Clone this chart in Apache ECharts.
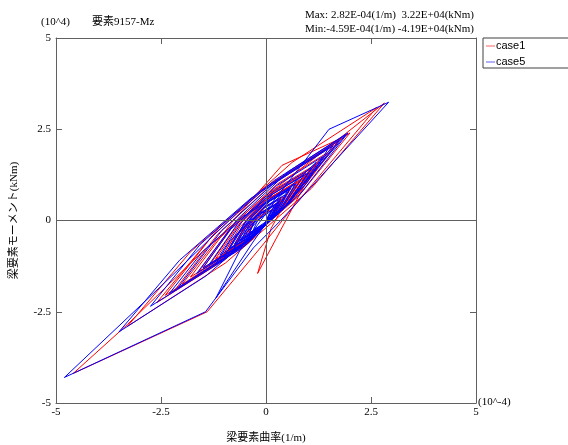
<!DOCTYPE html>
<html>
<head>
<meta charset="utf-8">
<script src="https://cdn.jsdelivr.net/npm/echarts@6/dist/echarts.min.js"></script>
<style>html,body{margin:0;padding:0;background:#fff;}#c{width:568px;height:445px;}</style>
</head>
<body>
<div id="c"></div>
<script>
// curvature in 1e-4 (1/m), moment in 1e4 (kNm)
const axisTicks = [-5, -2.5, 0, 2.5, 5];
const seriesNames = ['case1', 'case5'];
const case1 = [
[0,0],[0.12,0.22],[0.35,0.6],
[0.19,0.16],[-0.07,-0.18],[-0.45,-0.4],
[-0.24,0.14],[0.10,0.55],[0.55,0.85],
[0.26,0.24],[-0.15,-0.25],[-0.7,-0.6],
[-0.36,0.09],[0.13,0.64],[0.75,1.05],
[0.35,0.28],[-0.2,-0.33],[-0.9,-0.8],
[-0.44,0.06],[0.17,0.76],[0.95,1.3],
[0.40,0.35],[-0.31,-0.44],[-1.2,-1.05],
[-0.58,0.0],[0.22,0.86],[1.2,1.55],
[0.49,0.41],[-0.41,-0.54],[-1.5,-1.3],
[-0.72,-0.05],[0.27,1.0],[1.45,1.85],
[0.58,0.51],[-0.51,-0.63],[-1.8,-1.55],
[-0.82,-0.06],[0.38,1.51],[1.8,2.26],
[0.70,0.63],[-0.64,-0.78],[-2.2,-1.95],
[-1.16,-0.39],[0.10,0.95],[1.6,2.05],
[0.44,0.38],[-0.96,-1.06],[-2.6,-2.25],
[-1.12,-0.20],[0.62,1.59],[2.64,3.1],
[0.6,0.3],[-0.1,-0.7],[-1.4,-2.5],[-4.59,-4.19],
[-3.3,-2.85],[-1.6,-0.95],[-0.2,0.5],[1.2,1.75],[2.82,3.22],
[1.08,0.88],[-0.96,-1.16],[-3.3,-2.9],
[-1.80,-0.86],[-0.04,0.90],[2.0,2.4],
[0.78,0.67],[-0.68,-0.82],[-2.4,-2.05],
[-1.27,-0.41],[0.09,0.99],[1.7,2.15],
[0.69,0.63],[-0.55,-0.67],[-2.0,-1.75],
[-1.18,-0.55],[-0.17,0.45],[1.05,1.25],
[-0.2,-1.45],
[0.12,-0.22],[0.62,0.83],[1.3,1.7],
[0.52,0.48],[-0.44,-0.56],[-1.6,-1.4],
[-0.90,-0.29],[-0.01,0.65],[1.05,1.4],
[0.44,0.38],[-0.35,-0.47],[-1.3,-1.15],
[-0.74,-0.22],[-0.03,0.54],[0.85,1.15],
[0.38,0.32],[-0.23,-0.37],[-1.0,-0.9],
[-0.61,-0.16],[-0.07,0.44],[0.6,0.9],
[0.28,0.24],[-0.17,-0.30],[-0.75,-0.7],
[-0.49,-0.13],[-0.10,0.32],[0.4,0.65],
[0.19,0.16],[-0.12,-0.23],[-0.55,-0.5],
[-0.38,-0.08],[-0.12,0.23],[0.25,0.45],
[0.12,0.09],[-0.09,-0.17],[-0.4,-0.35],
[-0.3,-0.05],[-0.1,0.14],[0.15,0.3],
[-0.09,-0.23],[-0.44,-0.64],[-0.9,-0.95],
[-0.59,-0.34],[-0.18,0.16],[0.35,0.55],
[-0.01,-0.12],[-0.5,-0.67],[-1.1,-1.1],
[-0.8,-0.53],[-0.4,-0.07],[0.1,0.3]
];
const case5 = [
[0,0],[0.08,0.2],[0.3,0.55],
[0.16,0.16],[-0.08,-0.14],[-0.4,-0.35],
[-0.21,0.14],[0.09,0.53],[0.5,0.8],
[0.24,0.23],[-0.15,-0.22],[-0.65,-0.55],
[-0.33,0.10],[0.12,0.61],[0.7,1.0],
[0.32,0.28],[-0.19,-0.31],[-0.85,-0.75],
[-0.42,0.07],[0.17,0.73],[0.9,1.25],
[0.39,0.36],[-0.27,-0.38],[-1.1,-0.95],
[-0.54,0.02],[0.20,0.82],[1.1,1.45],
[0.46,0.39],[-0.35,-0.50],[-1.35,-1.2],
[-0.64,-0.03],[0.26,0.96],[1.35,1.75],
[0.55,0.48],[-0.45,-0.58],[-1.65,-1.45],
[-0.67,0.05],[0.53,1.34],[1.95,2.4],
[0.83,0.75],[-0.52,-0.66],[-2.1,-1.85],
[-1.05,-0.27],[0.24,1.08],[1.75,2.2],
[0.50,0.43],[-1.0,-1.08],[-2.75,-2.35],
[-1.57,-0.66],[-0.16,0.79],[1.5,2.0],
[0.96,1.01],[0.26,0.17],[-0.6,-0.5],
[-0.15,0.05],[0.8,1.45],[1.5,2.5],[2.92,3.24],
[1.3,1.2],[0.35,0.0],[-0.3,-0.75],[-1.44,-2.5],[-4.8,-4.3],
[-2.5,-1.8],[-0.7,0.2],[0.2,1.1],[1.9,2.35],
[0.37,0.28],[-1.43,-1.52],[-3.5,-3.05],
[-2.06,-1.09],[-0.36,0.61],[1.6,2.05],
[0.53,0.47],[-0.77,-0.88],[-2.3,-2.0],
[-1.51,-0.85],[-0.55,0.11],[0.6,0.9],
[-0.31,-0.59],[-1.19,-2.12],
[-0.57,-0.70],[0.22,0.54],[1.2,1.6],
[0.49,0.44],[-0.41,-0.52],[-1.5,-1.3],
[-0.85,-0.25],[-0.01,0.61],[1.0,1.3],
[0.52,0.45],[-0.12,-0.25],[-0.9,-0.8],
[-0.51,-0.06],[0.03,0.54],[0.7,1.0],
[0.35,0.32],[-0.14,-0.23],[-0.75,-0.65],
[-0.44,-0.03],[0.0,0.47],[0.55,0.85],
[0.29,0.26],[-0.10,-0.20],[-0.6,-0.55],
[-0.36,-0.02],[-0.01,0.39],[0.45,0.7],
[0.23,0.22],[-0.08,-0.17],[-0.5,-0.45],
[-0.32,0.0],[-0.03,0.35],[0.35,0.6],
[0.19,0.19],[-0.06,-0.12],[-0.4,-0.35],
[-0.26,0.0],[-0.05,0.26],[0.25,0.45],
[0.12,0.12],[-0.05,-0.1],[-0.3,-0.25],
[-0.2,0.0],[0.0,0.18],[0.15,0.3],
[-0.11,-0.25],[-0.5,-0.69],[-1.0,-1.0],
[-0.69,-0.38],[-0.25,0.12],[0.3,0.5],
[-0.07,-0.2],[-0.57,-0.76],[-1.2,-1.2],
[-0.85,-0.55],[-0.39,-0.01],[0.2,0.4],
[-0.03,-0.12],[-0.37,-0.53],[-0.8,-0.85],
[-0.6,-0.42],[-0.31,-0.07],[0.05,0.2]
];
const titleText = '要素9157-Mz';
const yUnitText = '(10^4)';
const xUnitText = '(10^-4)';
const maxText = 'Max: 2.82E-04(1/m)  3.22E+04(kNm)';
const minText = 'Min:-4.59E-04(1/m) -4.19E+04(kNm)';
const xName = '梁要素曲率(1/m)';
const yName = '梁要素モーメント(kNm)';

const FONT = "'Liberation Serif','Noto Sans CJK JP',serif";
const AX = '#606060';
const chart = echarts.init(document.getElementById('c'), null, {renderer: 'canvas'});
const baseAxis = {
  min: axisTicks[0], max: axisTicks[axisTicks.length - 1], interval: 2.5,
  axisLine: {show: true, onZero: false, lineStyle: {color: AX, width: 1}},
  axisTick: {show: true, inside: true, length: 6, lineStyle: {color: AX}},
  splitLine: {show: false}
};
chart.setOption({
  animation: false,
  grid: {left: 56, right: 92, top: 38, bottom: 42, containLabel: false, outerBoundsMode: 'none'},
  legend: {
    data: seriesNames, orient: 'vertical', left: 483, top: 38,
    borderColor: '#404040', borderWidth: 1, padding: [2, 80, 0, 3], itemGap: 4,
    itemWidth: 9, itemHeight: 1, icon: 'rect',
    textStyle: {fontFamily: "'Liberation Sans',Arial,sans-serif", fontSize: 11, color: '#000', lineHeight: 12, padding: [0,0,0,-4]}
  },
  xAxis: [
    Object.assign({}, baseAxis, {type: 'value', position: 'bottom',
      name: xName, nameLocation: 'middle', nameGap: 30,
      nameTextStyle: {fontFamily: FONT, fontSize: 11, color: '#000'},
      axisLabel: {show: true, margin: 4, fontFamily: FONT, fontSize: 11, color: '#000'}}),
    Object.assign({}, baseAxis, {type: 'value', position: 'top', axisLabel: {show: false}})
  ],
  yAxis: [
    Object.assign({}, baseAxis, {type: 'value', position: 'left',
      name: yName, nameLocation: 'middle', nameGap: 36,
      nameTextStyle: {fontFamily: FONT, fontSize: 11, color: '#000'},
      axisLabel: {show: true, margin: 5, fontFamily: FONT, fontSize: 11, color: '#000'}}),
    Object.assign({}, baseAxis, {type: 'value', position: 'right', axisLabel: {show: false}})
  ],
  graphic: [
    {type: 'text', left: 41, top: 17, style: {text: yUnitText, font: '11px ' + FONT, fill: '#000'}},
    {type: 'text', left: 92, top: 17, style: {text: titleText, font: '11px ' + FONT, fill: '#000'}},
    {type: 'text', right: 94, top: 10, style: {text: maxText, font: '11px ' + FONT, fill: '#000'}},
    {type: 'text', right: 94, top: 24, style: {text: minText, font: '11px ' + FONT, fill: '#000'}},
    {type: 'text', left: 478, top: 397, style: {text: xUnitText, font: '11px ' + FONT, fill: '#000'}}
  ],
  series: [
    {name: seriesNames[0], type: 'line', data: case1, showSymbol: false, symbol: 'none',
     lineStyle: {color: '#ff0000', width: 1}, itemStyle: {color: '#ff6060'},
     markLine: {silent: true, symbol: 'none', label: {show: false}, animation: false,
       lineStyle: {color: AX, width: 1, type: 'solid'},
       data: [{xAxis: 0}, {yAxis: 0}]}},
    {name: seriesNames[1], type: 'line', data: case5, showSymbol: false, symbol: 'none',
     lineStyle: {color: '#0000ff', width: 1}, itemStyle: {color: '#6060ff'}}
  ]
});
</script>
</body>
</html>
